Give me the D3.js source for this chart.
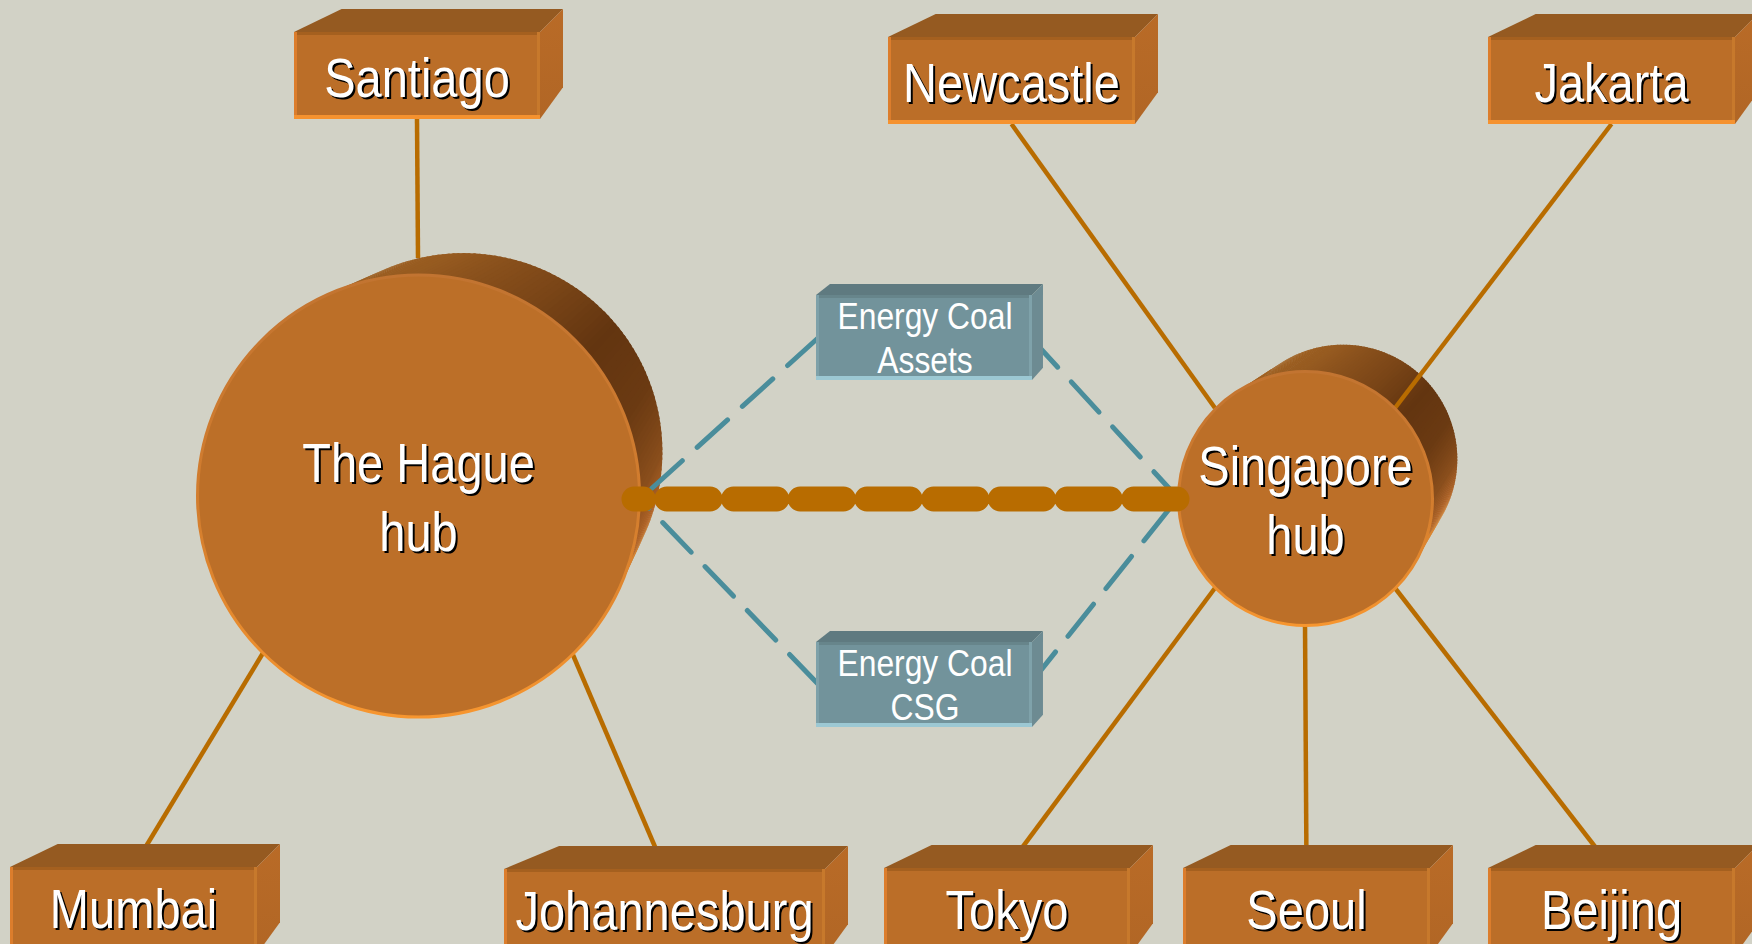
<!DOCTYPE html>
<html>
<head>
<meta charset="utf-8">
<script src="https://cdn.jsdelivr.net/npm/d3@7"></script>
<style>
  html, body { margin: 0; padding: 0; background: #d2d2c6; overflow: hidden; }
  svg { display: block; }
</style>
</head>
<body>
<svg id="chart" width="1752" height="944"></svg>
<script>
// ---------------- DATA ----------------
// City boxes (slide coordinates of the front face)
const cityNames = ["Santiago", "Newcastle", "Jakarta", "Mumbai", "Johannesburg", "Tokyo", "Seoul", "Beijing"];
const cityLeft  = [294, 888, 1488, 10, 504, 884, 1183, 1488];
const cityRight = [540, 1135, 1735, 257, 825, 1130, 1430, 1735];
const cityTop   = [32, 37, 37, 867, 869, 868, 868, 868];
const cityRow   = ["top", "top", "top", "bottom", "bottom", "bottom", "bottom", "bottom"];
// End point of each city's connector on its hub
const linkEndX  = [418, 1215, 1395, 263, 573, 1215, 1305, 1395];
const linkEndY  = [258, 408, 408, 653, 655, 588, 623, 588];

// Hubs
const hubLabels = [["The Hague", "hub"], ["Singapore", "hub"]];
const hubCx     = [418.5, 1305.5];
const hubCy     = [496, 498.5];
const hubR      = [221, 127];
const hubDepthX = [45, 37.5];
const hubDepthY = [-44, -39.5];
const hubBackScale = [0.9, 0.9];

// Energy Coal boxes
const unitLabels = [["Energy Coal", "Assets"], ["Energy Coal", "CSG"]];
const unitLeft   = [816, 816];
const unitRight  = [1032, 1032];
const unitTop    = [295, 642];

// Dashed links between units and hubs: [x1,y1,x2,y2] (unit end first)
const dashLinks = [
  [818, 338, 640, 499],
  [818, 684, 640, 499],
  [1030, 337, 1178, 498],
  [1030, 684, 1178, 498]
];
// Main hub-to-hub link (drawn from Singapore towards The Hague)
const mainLink = [1177, 499, 634, 499];

// ---------------- SETUP ----------------
const W = 1752, H = 944;
const x = d3.scaleLinear().domain([0, 1752]).range([0, W]);
const y = d3.scaleLinear().domain([0, 944]).range([0, H]);
const svg = d3.select("#chart");
const defs = svg.append("defs");

svg.append("rect").attr("width", W).attr("height", H).attr("fill", "#d2d2c6");

const FONT = "'Liberation Sans', Arial, sans-serif";
const BOX_H = 87, UNIT_H = 85;

// gradient for hub rim
const rim = defs.append("linearGradient").attr("id", "rim").attr("x1", 0).attr("y1", 0).attr("x2", 0).attr("y2", 1);
rim.append("stop").attr("offset", "0%").attr("stop-color", "#c27431");
rim.append("stop").attr("offset", "55%").attr("stop-color", "#d47e2e");
rim.append("stop").attr("offset", "100%").attr("stop-color", "#f7962f");

const sideGrad = defs.append("linearGradient").attr("id", "sideGrad").attr("x1", 0).attr("y1", 0).attr("x2", 0).attr("y2", 1);
sideGrad.append("stop").attr("offset", "0%").attr("stop-color", "#b96b27");
sideGrad.append("stop").attr("offset", "100%").attr("stop-color", "#b16625");

// ---------------- HUB EXTRUSIONS ----------------
const sideColor = d3.scaleLinear()
  .domain([-180, -120, -90, -60, -40, -20, 0, 15, 30, 60, 180])
  .range(["#a86525", "#a26222", "#955a20", "#7b4617", "#633510", "#6b3a12", "#8a4e1c", "#b06428", "#d98530", "#e98c33", "#e98c33"])
  .interpolate(d3.interpolateRgb);

const hubSideLayer = svg.append("g");
hubR.forEach((r, i) => {
  const cx = hubCx[i], cy = hubCy[i];
  const bcx = cx + hubDepthX[i], bcy = cy + hubDepthY[i], br = r * hubBackScale[i];
  const steps = d3.range(0, 360, 1.5);
  hubSideLayer.selectAll(null).data(steps).join("path")
    .attr("d", a0 => {
      const a1 = a0 + 2.2;
      const t0 = a0 * Math.PI / 180, t1 = a1 * Math.PI / 180;
      const p = [
        [cx + r * Math.cos(t0), cy + r * Math.sin(t0)],
        [cx + r * Math.cos(t1), cy + r * Math.sin(t1)],
        [bcx + br * Math.cos(t1), bcy + br * Math.sin(t1)],
        [bcx + br * Math.cos(t0), bcy + br * Math.sin(t0)]
      ];
      return "M" + p.map(q => x(q[0]) + "," + y(q[1])).join("L") + "Z";
    })
    .attr("fill", a0 => {
      let a = a0 + 1; if (a > 180) a -= 360;
      return sideColor(a);
    });
});

// ---------------- CITY CONNECTORS ----------------
const connLayer = svg.append("g");
cityNames.forEach((n, i) => {
  const cx = (cityLeft[i] + cityRight[i]) / 2;
  const cy = cityRow[i] === "top" ? cityTop[i] + BOX_H : cityTop[i];
  connLayer.append("line")
    .attr("x1", x(cx)).attr("y1", y(cy))
    .attr("x2", x(linkEndX[i])).attr("y2", y(linkEndY[i]))
    .attr("stroke", "#b86c00").attr("stroke-width", 4.5);
});

// ---------------- HUB FRONTS ----------------
const hubFront = svg.append("g");
hubR.forEach((r, i) => {
  hubFront.append("circle")
    .attr("cx", x(hubCx[i])).attr("cy", y(hubCy[i])).attr("r", x(r) - x(0))
    .attr("fill", "#bc6f28")
    .attr("stroke", "url(#rim)").attr("stroke-width", 3);
});

// ---------------- BOX DRAWING ----------------
function drawBox(g, x0, x1, y0, h, k, vx, vy, c) {
  const y1 = y0 + h;
  const Vx = x1 + vx, Vy = y0 - vy;
  const P = (px, py) => [px + k * (Vx - px), py + k * (Vy - py)];
  const TL = P(x0, y0), TR = P(x1, y0), BR = P(x1, y1);
  const poly = pts => "M" + pts.map(q => x(q[0]) + "," + y(q[1])).join("L") + "Z";
  g.append("path").attr("d", poly([[x0, y0], [x1, y0], TR, TL])).attr("fill", c.top);
  g.append("path").attr("d", poly([[x1, y0], TR, BR, [x1, y1]])).attr("fill", c.side);
  g.append("rect").attr("x", x(x0)).attr("y", y(y0)).attr("width", x(x1) - x(x0)).attr("height", y(y1) - y(y0)).attr("fill", c.front);
  g.append("line").attr("x1", x(x0)).attr("x2", x(x1)).attr("y1", y(y0) + 1.5).attr("y2", y(y0) + 1.5).attr("stroke", c.topEdge).attr("stroke-width", 3);
  g.append("line").attr("x1", x(x0) + 1.5).attr("x2", x(x0) + 1.5).attr("y1", y(y0)).attr("y2", y(y1)).attr("stroke", c.leftEdge).attr("stroke-width", 3);
  g.append("line").attr("x1", x(x1) - 1.5).attr("x2", x(x1) - 1.5).attr("y1", y(y0)).attr("y2", y(y1)).attr("stroke", c.rightEdge).attr("stroke-width", 3);
  g.append("line").attr("x1", x(x0)).attr("x2", x(x1)).attr("y1", y(y1) - 2).attr("y2", y(y1) - 2).attr("stroke", c.bottomEdge).attr("stroke-width", 4);
}

const orangeStyle = { top: "#955a21", side: "url(#sideGrad)", front: "#bb6e28", topEdge: "#a5601f", leftEdge: "#dc7d2c", rightEdge: "#c7792c", bottomEdge: "#f5922f" };
const tealStyle   = { top: "#5f7a80", side: "#6d8b92", front: "#72939b", topEdge: "#67858b", leftEdge: "#7ea1a9", rightEdge: "#7fa2aa", bottomEdge: "#9cc8d3" };

// ---------------- CITY BOXES ----------------
const boxLayer = svg.append("g");
cityNames.forEach((n, i) => {
  drawBox(boxLayer, cityLeft[i], cityRight[i], cityTop[i], BOX_H, 0.1, 230, 230, orangeStyle);
});

// ---------------- DASHED UNIT LINKS ----------------
const dashLayer = svg.append("g");
dashLinks.forEach(d => {
  dashLayer.append("line")
    .attr("x1", x(d[0])).attr("y1", y(d[1])).attr("x2", x(d[2])).attr("y2", y(d[3]))
    .attr("stroke", "#4a8d9b").attr("stroke-width", 5)
    .attr("stroke-linecap", "round")
    .attr("stroke-dasharray", "41,20");
});

// ---------------- UNIT BOXES ----------------
const unitLayer = svg.append("g");
unitLabels.forEach((lab, i) => {
  drawBox(unitLayer, unitLeft[i], unitRight[i], unitTop[i], UNIT_H, 0.014, 784, 786, tealStyle);
});

// ---------------- MAIN LINK ----------------
svg.append("line")
  .attr("x1", x(mainLink[0])).attr("y1", y(mainLink[1]))
  .attr("x2", x(mainLink[2])).attr("y2", y(mainLink[3]))
  .attr("stroke", "#b86c00").attr("stroke-width", 25)
  .attr("stroke-linecap", "round")
  .attr("stroke-dasharray", "43.3,23.4");

// ---------------- TEXT ----------------
const textLayer = svg.append("g");
function label(cx, by, str, size, sx, shadow) {
  if (shadow) {
    textLayer.append("text")
      .attr("transform", `translate(${x(cx) + 2},${y(by) + 2}) scale(${sx},1)`)
      .attr("text-anchor", "middle").attr("font-family", FONT).attr("font-size", size)
      .attr("fill", "#000").text(str);
  }
  textLayer.append("text")
    .attr("transform", `translate(${x(cx)},${y(by)}) scale(${sx},1)`)
    .attr("text-anchor", "middle").attr("font-family", FONT).attr("font-size", size)
    .attr("fill", "#fff").text(str);
}

cityNames.forEach((n, i) => {
  const cx = (cityLeft[i] + cityRight[i]) / 2;
  const by = cityRow[i] === "top" ? cityTop[i] + 65 : cityTop[i] + 61;
  label(cx, by, n, 56, 0.84, true);
});

hubLabels.forEach((lines, i) => {
  label(hubCx[i], hubCy[i] - 14, lines[0], 56, 0.84, true);
  label(hubCx[i], hubCy[i] + 55, lines[1], 56, 0.84, true);
});

unitLabels.forEach((lines, i) => {
  const cx = (unitLeft[i] + unitRight[i]) / 2 + 1;
  label(cx, unitTop[i] + 34, lines[0], 37, 0.86, false);
  label(cx, unitTop[i] + 78, lines[1], 37, 0.86, false);
});
</script>
</body>
</html>
